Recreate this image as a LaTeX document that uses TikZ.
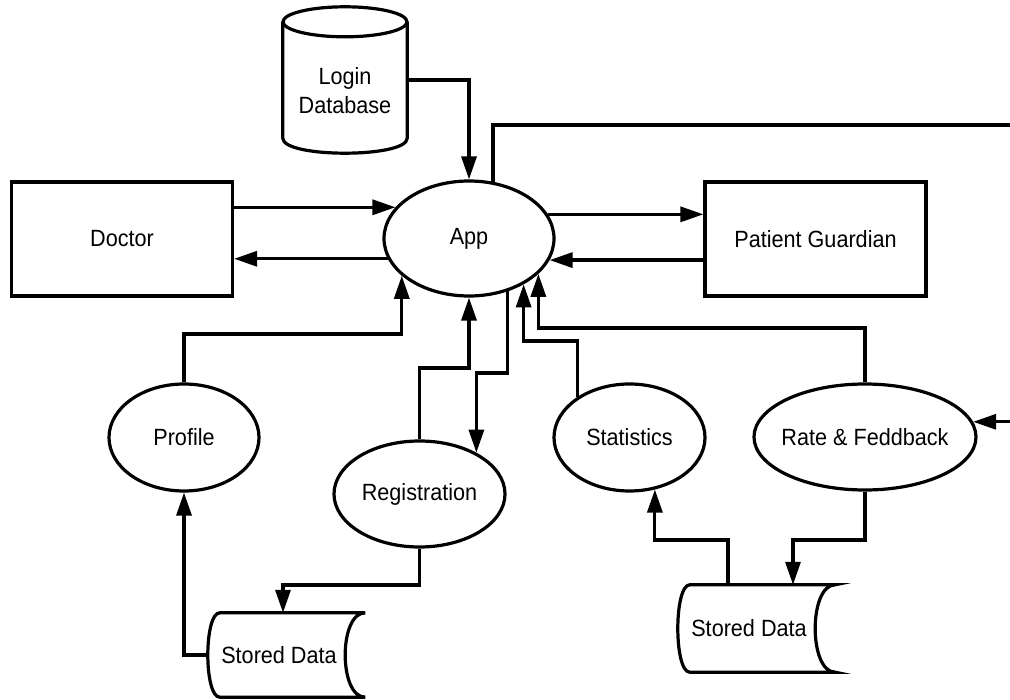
\documentclass[tikz,border=0pt]{standalone}
\usepackage{fontspec}
\setmainfont{Liberation Sans}[FakeStretch=0.92]
\usetikzlibrary{arrows.meta,shapes.geometric,calc}
\begin{document}
\begin{tikzpicture}[x=1pt,y=-1pt,
  wire/.style={line width=3.2pt},
  arr/.style={wire,-{Triangle[length=23pt,width=15pt]}},
  lbl/.style={font=\fontsize{23.5}{29}\selectfont},
  entity/.style={lbl,draw,wire,rectangle,minimum width=221pt,minimum height=114pt},
  process/.style={lbl,draw,wire,ellipse,inner sep=0pt,
    execute at begin node={\hbox to 0pt\bgroup\hss},
    execute at end node={\hss\egroup}},
  store/.style={lbl,rectangle,inner sep=0pt,minimum width=157pt},
]
\useasboundingbox (0,0) rectangle (1010,700);

% external entities
\node[entity] (doctor) at (122,239) {Doctor};
\node[entity] (guardian) at (815.5,239) {Patient Guardian};

% processes
\node[process,minimum width=170pt,minimum height=115pt] (app) at (469,238.5) {App};
\node[process,minimum width=150pt,minimum height=107pt] (profile) at (184,437.5) {Profile};
\node[process,minimum width=171pt,minimum height=106pt] (reg) at (419.5,494) {Registration};
\node[process,minimum width=151pt,minimum height=107pt] (stats) at (629.5,437.5) {Statistics};
\node[process,minimum width=222pt,minimum height=106pt] (rate) at (865,437) {Rate \& Feddback};

% login database (cylinder)
\node[minimum width=124pt,minimum height=146pt,inner sep=0pt] (login) at (345,80) {};
\node[lbl,align=center,inner sep=0pt] (loginText) at (345,91) {Login\\Database};
\draw[wire] ([yshift=-15pt]login.north) ellipse [x radius=62pt,y radius=15pt];
\draw[wire] ([yshift=-15pt]login.north west) -- ([yshift=15pt]login.south west)
  .. controls ([yshift=-5pt]login.south west) and ([yshift=-5pt]login.south east)
  .. ([yshift=15pt]login.south east) -- ([yshift=-15pt]login.north east);

% data stores
\node[store,minimum height=84pt] (sd1) at (286.5,655) {\hspace*{-15pt}Stored Data};
\node[store,minimum height=87pt] (sd2) at (756.5,628.5) {\hspace*{-15pt}Stored Data};
\foreach \s in {sd1,sd2} {
  \draw[wire] ([xshift=12pt]\s.north west) -- (\s.north east)
    .. controls ([xshift=-26.7pt]\s.north east) and ([xshift=-26.7pt]\s.south east)
    .. (\s.south east) -- ([xshift=12pt]\s.south west)
    .. controls ([xshift=-4pt]\s.south west) and ([xshift=-4pt]\s.north west)
    .. ([xshift=12pt]\s.north west) -- cycle;
}

% routing levels
\coordinate (yProfile) at (0,334);
\coordinate (yReg) at (0,368);
\coordinate (yRegIn) at (0,373);
\coordinate (yStats) at (0,341);
\coordinate (yRate) at (0,328);
\coordinate (yLow) at (0,540);
\coordinate (yStore) at (0,585);
\coordinate (edgeTop) at (1012,125);
\coordinate (edgeRate) at (1012,422);

% flows
\draw[arr] (login.east) -| (app.north);
\draw[wire] (app.67) |- (edgeTop);
\draw[arr] (doctor.east |- app.157) -- (app.157);
\draw[arr] (app.194) -- (doctor.east |- app.194);
\draw[arr] (app.17) -- (guardian.west |- app.17);
\draw[arr] (guardian.west |- app.345) -- (app.345);
\draw[arr] (profile.north) |- (app.209 |- yProfile) -- (app.209);
\draw[arr] (reg.north) |- (app.south |- yReg) -- (app.south);
\draw[arr] (app.306) |- (reg.36 |- yRegIn) -- (reg.36);
\draw[arr] (stats.142) |- (app.320 |- yStats) -- (app.320);
\draw[arr] (rate.north) |- (app.333 |- yRate) -- (app.333);
\draw[arr] (edgeRate |- rate.8) -- (rate.8);
\draw[arr] (reg.south) |- ([xshift=-3.5pt]sd1.north |- yStore) -- ([xshift=-3.5pt]sd1.north);
\draw[arr] (sd1.west) -| (profile.south);
\draw[arr] ([xshift=-28.5pt]sd2.north) |- (stats.296 |- yLow) -- (stats.296);
\draw[arr] (rate.south) |- ([xshift=36.5pt]sd2.north |- yLow) -- ([xshift=36.5pt]sd2.north);
\end{tikzpicture}
\end{document}
